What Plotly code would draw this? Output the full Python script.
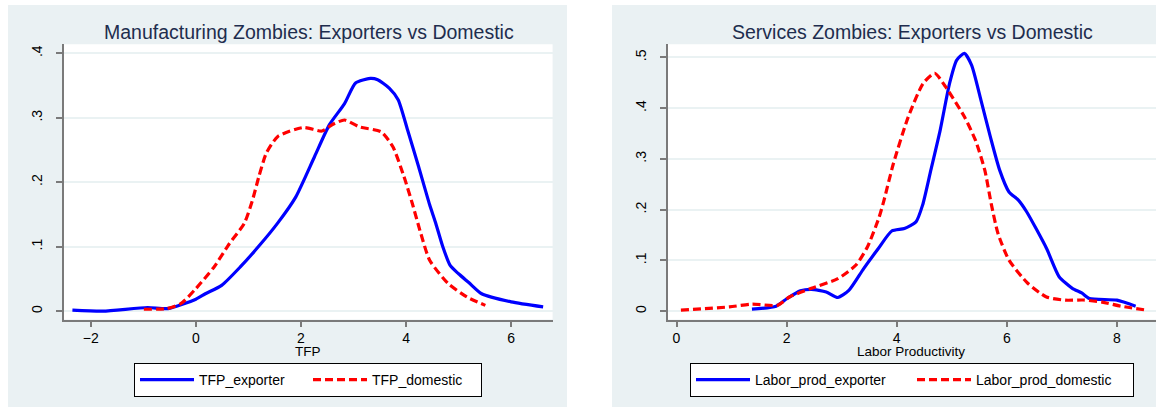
import plotly.graph_objects as go

# ---- Manufacturing: kernel density of TFP ----
tfp_x_exporter = [-2.35, -1.77, -0.92, -0.53, 0.0, 0.18, 0.49, 0.85, 1.2, 1.56, 1.9, 2.26, 2.54,
                  2.83, 3.04, 3.32, 3.46, 3.68, 3.85, 4.03, 4.24, 4.45, 4.56, 4.70, 4.84, 5.0,
                  5.2, 5.44, 6.0, 6.61]
tfp_y_exporter = [0.0016, 0.0, 0.0057, 0.004, 0.0186, 0.027, 0.040, 0.069, 0.101, 0.137, 0.177,
                  0.240, 0.289, 0.322, 0.354, 0.361, 0.359, 0.346, 0.328, 0.281, 0.224, 0.165,
                  0.138, 0.100, 0.071, 0.058, 0.044, 0.027, 0.0145, 0.0067]
tfp_x_domestic = [-0.99, -0.56, -0.28, 0.0, 0.35, 0.64, 0.92, 1.07, 1.20, 1.34, 1.56, 2.05, 2.40,
                  2.61, 2.83, 3.11, 3.53, 3.75, 3.96, 4.12, 4.28, 4.45, 4.80, 5.16, 5.51]
tfp_y_domestic = [0.003, 0.004, 0.012, 0.035, 0.069, 0.105, 0.136, 0.170, 0.209, 0.245, 0.271,
                  0.285, 0.2795, 0.290, 0.2966, 0.286, 0.278, 0.255, 0.209, 0.167, 0.121, 0.079,
                  0.043, 0.022, 0.009]

# ---- Services: kernel density of labour productivity ----
lp_x_exporter = [1.37, 1.81, 2.01, 2.25, 2.45, 2.72, 2.93, 3.13, 3.40, 3.67, 3.91, 4.14, 4.35,
                 4.47, 4.62, 4.79, 4.96, 5.09, 5.23, 5.36, 5.53, 5.70, 5.87, 6.04, 6.21, 6.36,
                 6.72, 6.95, 7.19, 7.36, 7.50, 8.0, 8.34]
lp_y_exporter = [0.004, 0.0099, 0.025, 0.040, 0.043, 0.038, 0.027, 0.041, 0.084, 0.124, 0.158,
                 0.163, 0.176, 0.209, 0.278, 0.357, 0.449, 0.495, 0.508, 0.485, 0.416, 0.344,
                 0.278, 0.235, 0.219, 0.196, 0.124, 0.068, 0.045, 0.036, 0.025, 0.0217, 0.0099]
lp_x_domestic = [0.08, 0.96, 1.37, 1.84, 2.05, 2.45, 2.93, 3.26, 3.47, 3.68, 3.77, 3.94, 4.21,
                 4.48, 4.69, 4.89, 5.23, 5.43, 5.60, 5.72, 5.84, 6.04, 6.38, 6.72, 7.06, 7.39,
                 7.73, 8.07, 8.54]
lp_y_domestic = [0.002, 0.0085, 0.0138, 0.0118, 0.028, 0.045, 0.064, 0.091, 0.127, 0.185, 0.219,
                 0.291, 0.383, 0.449, 0.469, 0.442, 0.383, 0.337, 0.278, 0.210, 0.153, 0.1006,
                 0.055, 0.028, 0.0217, 0.022, 0.018, 0.0099, 0.002]

left_title = "Manufacturing Zombies: Exporters vs Domestic"
right_title = "Services Zombies: Exporters vs Domestic"
left_xlabel = "TFP"
right_xlabel = "Labor Productivity"
left_yticks = [0, 0.1, 0.2, 0.3, 0.4]
left_yticktext = ["0", ".1", ".2", ".3", ".4"]
right_yticks = [0, 0.1, 0.2, 0.3, 0.4, 0.5]
right_yticktext = ["0", ".1", ".2", ".3", ".4", ".5"]
left_xticks = [-2, 0, 2, 4, 6]
right_xticks = [0, 2, 4, 6, 8]

W, H = 1165, 407
FONT = "Liberation Sans, Arial, sans-serif"
PANEL = "#EAF1F3"
GRID = "#EAF2F3"
AXIS = "#7A7A7A"
TITLE_COLOR = "#1E2D4E"
BLUE = "#0000FF"
RED = "#FF0000"


def px_x(v):
    return v / W


def px_y(v):
    return 1 - v / H


fig = go.Figure()

line_common = dict(shape="spline", smoothing=0.6, width=3.2)
fig.add_trace(go.Scatter(x=tfp_x_exporter, y=tfp_y_exporter, mode="lines", name="TFP_exporter",
                         line=dict(color=BLUE, **line_common), xaxis="x", yaxis="y",
                         legend="legend"))
fig.add_trace(go.Scatter(x=tfp_x_domestic, y=tfp_y_domestic, mode="lines", name="TFP_domestic",
                         line=dict(color=RED, dash="8px,4px", **line_common), xaxis="x", yaxis="y",
                         legend="legend"))
fig.add_trace(go.Scatter(x=lp_x_exporter, y=lp_y_exporter, mode="lines", name="Labor_prod_exporter",
                         line=dict(color=BLUE, **line_common), xaxis="x2", yaxis="y2",
                         legend="legend2"))
fig.add_trace(go.Scatter(x=lp_x_domestic, y=lp_y_domestic, mode="lines", name="Labor_prod_domestic",
                         line=dict(color=RED, dash="8px,4px", **line_common), xaxis="x2", yaxis="y2",
                         legend="legend2"))

ydom = [px_y(319.5), px_y(44.3)]
xaxis_common = dict(showline=True, linecolor=AXIS, linewidth=2, ticks="outside", ticklen=5,
                    tickwidth=1.5, tickcolor=AXIS, showgrid=False, zeroline=False,
                    automargin=False,
                    tickfont=dict(family=FONT, size=14, color="#000000"))
yaxis_common = dict(showline=True, linecolor=AXIS, linewidth=2, ticks="outside", ticklen=6,
                    tickwidth=1.5, tickcolor=AXIS, showgrid=True, gridcolor=GRID, gridwidth=1.5,
                    zeroline=False, tickangle=-90, ticklabelstandoff=8, automargin=False,
                    tickfont=dict(family=FONT, size=14, color="#000000"))

legend_common = dict(orientation="h", xanchor="center", y=px_y(363), yanchor="top",
                     bgcolor="white", bordercolor="#000000", borderwidth=1, itemwidth=54,
                     tracegroupgap=0, font=dict(family=FONT, size=14, color="#000000"))

fig.update_layout(
    width=W, height=H,
    margin=dict(l=0, r=0, t=0, b=0),
    paper_bgcolor="white", plot_bgcolor="white",
    font=dict(family=FONT, size=14, color="#000000"),
    xaxis=dict(domain=[px_x(64.0), px_x(552.6)], range=[-2.51, 6.79], tickvals=left_xticks,
               anchor="y", **xaxis_common),
    yaxis=dict(domain=ydom, range=[-0.0129, 0.414], tickvals=left_yticks,
               ticktext=left_yticktext, anchor="x", **yaxis_common),
    xaxis2=dict(domain=[px_x(667.7), px_x(1156)], range=[-0.16, 8.71], tickvals=right_xticks,
                anchor="y2", **xaxis_common),
    yaxis2=dict(domain=ydom, range=[-0.0164, 0.526], tickvals=right_yticks,
                ticktext=right_yticktext, anchor="x2", **yaxis_common),
    legend=dict(x=px_x(308), entrywidth=104, **legend_common),
    legend2=dict(x=px_x(912), entrywidth=152, **legend_common),
    shapes=[
        dict(type="rect", xref="paper", yref="paper", x0=px_x(8), x1=px_x(567),
             y0=px_y(407), y1=px_y(5), fillcolor=PANEL, line=dict(width=0), layer="below"),
        dict(type="rect", xref="paper", yref="paper", x0=px_x(612), x1=px_x(1156),
             y0=px_y(407), y1=px_y(5), fillcolor=PANEL, line=dict(width=0), layer="below"),
        dict(type="rect", xref="paper", yref="paper", x0=px_x(64.0), x1=px_x(552.6),
             y0=ydom[0], y1=ydom[1], fillcolor="white", line=dict(width=0), layer="below"),
        dict(type="rect", xref="paper", yref="paper", x0=px_x(667.7), x1=px_x(1156),
             y0=ydom[0], y1=ydom[1], fillcolor="white", line=dict(width=0), layer="below"),
    ],
    annotations=[
        dict(text=left_title, xref="paper", yref="paper", x=px_x(309), y=px_y(32),
             xanchor="center", yanchor="middle", showarrow=False,
             font=dict(family=FONT, size=19.5, color=TITLE_COLOR)),
        dict(text=right_title, xref="paper", yref="paper", x=px_x(912.6), y=px_y(32),
             xanchor="center", yanchor="middle", showarrow=False,
             font=dict(family=FONT, size=19.5, color=TITLE_COLOR)),
        dict(text=left_xlabel, xref="paper", yref="paper", x=px_x(308), y=px_y(351),
             xanchor="center", yanchor="middle", showarrow=False,
             font=dict(family=FONT, size=13.5, color="#000000")),
        dict(text=right_xlabel, xref="paper", yref="paper", x=px_x(911), y=px_y(351),
             xanchor="center", yanchor="middle", showarrow=False,
             font=dict(family=FONT, size=13.5, color="#000000")),
    ],
)

fig.write_html("out.html")
